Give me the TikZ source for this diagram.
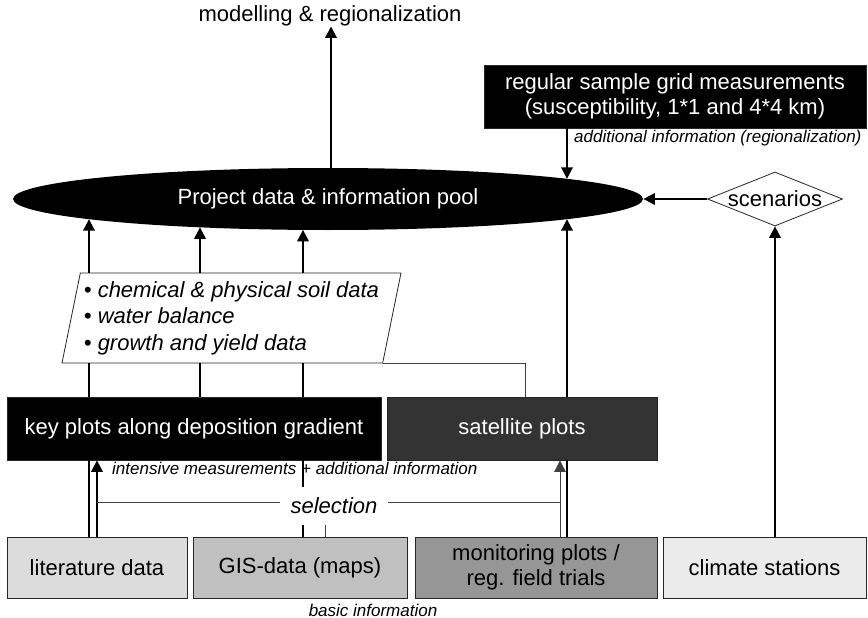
\documentclass[tikz,border=0pt]{standalone}
\usepackage{fontspec}
\setmainfont{Liberation Sans}
\usetikzlibrary{calc,arrows.meta,shapes.geometric}

\definecolor{litgray}{HTML}{DCDCDC}
\definecolor{gisgray}{HTML}{C0C0C0}
\definecolor{mongray}{HTML}{969696}
\definecolor{climgray}{HTML}{EBEBEB}
\definecolor{satgray}{HTML}{333333}

\begin{document}
\begin{tikzpicture}[x=1pt, y=-1pt,
    big/.style={font=\fontsize{22}{25}\selectfont},
    box/.style={big, draw=black!85, line width=0.8pt, inner sep=0pt, align=center},
    note/.style={inner sep=0pt, font=\fontsize{17}{20}\selectfont\itshape},
    conn/.style={line width=2pt},
    tip/.style={-{Triangle[width=11.5pt,length=11.5pt]}},
    arr/.style={conn, tip},
    fine/.style={line width=0.8pt, black!75}]
    \useasboundingbox (0,0) rectangle (868,618);

    % columns of the connectors
    \coordinate (c1) at (89,0);  \coordinate (c2) at (200,0);
    \coordinate (c3) at (303,0); \coordinate (c4) at (567,0);
    \coordinate (c5) at (525,0); \coordinate (g) at (325,0);
    \coordinate (s1) at (97,0);  \coordinate (s2) at (560,0);
    \coordinate (m) at (331,0);  \coordinate (selrow) at (0,502);
    % points on the rim of the pool
    \foreach \x/\n in {89/r1, 200/r2, 303/r3, 567/r4}
        \coordinate (\n) at (\x, {199+31*sqrt(1-((\x-328)/315)^2)});
    \coordinate (r4top) at (567, {199-31*sqrt(1-((567-328)/315)^2)});

    \node[big, inner sep=0pt] (model) at (330,16) {modelling \& regionalization};
    \node[box, fill=black, text=white, minimum width=382pt, minimum height=63pt] (grid) at (675,96.5)
        {regular sample grid measurements\\(susceptibility, 1*1 and 4*4 km)};
    \node[note, anchor=west] (addinfo) at (574,138) {additional information (regionalization)};
    \node[box, draw=none, ellipse, fill=black, text=white, minimum width=630pt, minimum height=62pt] (pool) at (328,199)
        {Project data \& information pool};
    \node[box, diamond, aspect=2.5, fill=white, minimum width=135pt, minimum height=54pt] (scen) at (775,199) {scenarios};
    \node[box, trapezium, trapezium left angle=76, trapezium right angle=104, trapezium stretches body,
        fill=white, align=left, minimum width=339pt, minimum height=90pt,
        font=\fontsize{22}{26.5}\selectfont\itshape] (para) at (231.5,318)
        {\textbullet\ chemical \& physical soil data\\\textbullet\ water balance\\\textbullet\ growth and yield data};

    \node[box, fill=black, text=white, minimum width=374pt, minimum height=63pt] (kp) at (194,428.5)
        {key plots along deposition gradient};
    \node[box, fill=satgray, text=white, minimum width=270pt, minimum height=63pt] (sat) at (522,428.5) {satellite plots};
    \node[note, anchor=west] (intens) at (112,468) {intensive measurements + additional information};

    \node[box, fill=litgray, minimum width=180pt, minimum height=61pt] (lit) at (97,567.5) {literature data};
    \node[box, fill=gisgray, minimum width=214pt, minimum height=61pt] (gis) at (300,567.5) {GIS-data (maps)};
    \node[box, fill=mongray, minimum width=242pt, minimum height=61pt] (mon) at (536,567.5)
        {monitoring plots /\\reg. field trials};
    \node[box, fill=climgray, minimum width=203pt, minimum height=61pt] (clim) at (764.5,567.5) {climate stations};
    \node[note] (basic) at (373,610) {basic information};

    % up into the pool
    \draw[conn] (lit.north -| c1) -- (kp.south -| c1);
    \draw[conn] (kp.north -| c1) -- (para.south -| c1);
    \draw[arr] (para.north -| c1) -- (r1);
    \draw[conn] (kp.north -| c2) -- (para.south -| c2);
    \draw[arr] (para.north -| c2) -- (r2);
    \draw[conn] (gis.north -| c3) -- (kp.south -| c3);
    \draw[conn] (kp.north -| c3) -- (para.south -| c3);
    \draw[arr] (para.north -| c3) -- (r3);
    \draw[conn] (mon.north -| c4) -- (sat.south -| c4);
    \draw[arr] (sat.north -| c4) -- (r4);
    \draw[fine] (sat.north -| c5) |- (para.bottom right corner);
    \draw[arr] (grid.south -| c4) -- (r4top);
    \draw[arr] (pool.north -| m) -- (model.south -| m);
    \draw[arr] (scen.west) -- (pool.east);
    \draw[arr] (clim.north -| scen.south) -- (scen.south);

    % selection
    \draw[arr] (lit.north -| s1) -- (kp.south -| s1);
    \draw[fine, tip] (mon.north -| s2) -- (sat.south -| s2);
    \draw[fine] (selrow -| s1) -- (selrow -| s2);
    \draw[fine] (gis.north -| g) -- (selrow -| g);
    \node[fill=white, inner sep=0pt, minimum width=108pt, minimum height=38pt,
        font=\fontsize{22}{25}\selectfont\itshape] (sel) at (334,506) {selection};
\end{tikzpicture}
\end{document}
